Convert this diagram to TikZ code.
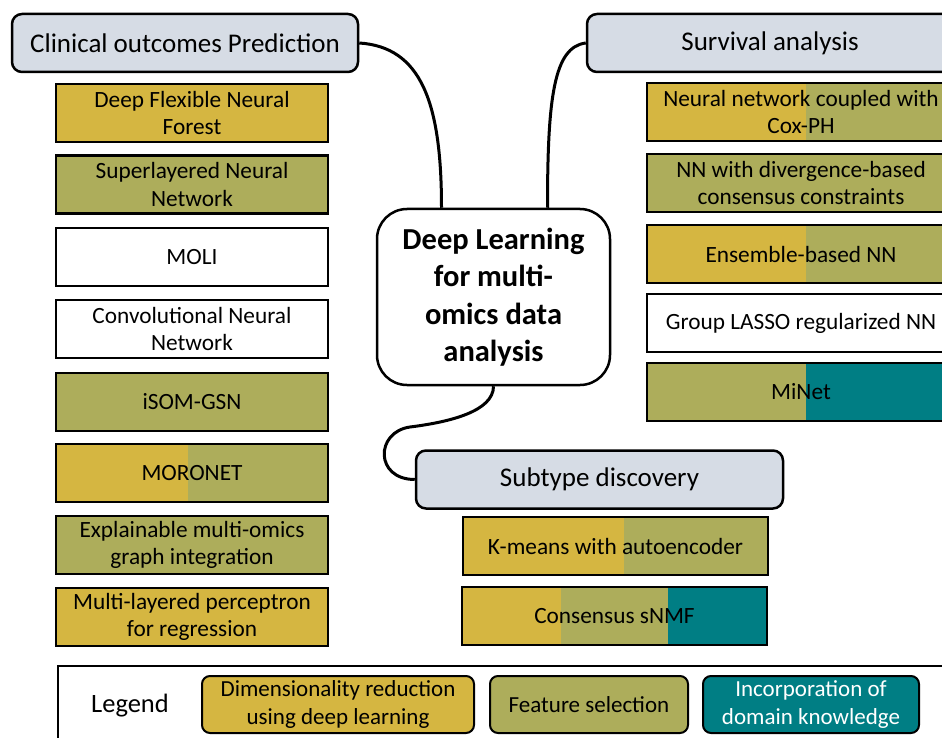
\documentclass[tikz,border=0pt]{standalone}
\usepackage{fontspec}
\setmainfont{Carlito}
\usetikzlibrary{calc}
\definecolor{dimred}{HTML}{D5B641}
\definecolor{featsel}{HTML}{ADAD5B}
\definecolor{domknow}{HTML}{007E84}
\definecolor{headgray}{HTML}{D6DCE5}

\begin{document}
\begin{tikzpicture}[x=1pt, y=-1pt,
    header/.style={draw, line width=2.5pt, rounded corners=10pt, fill=headgray, minimum height=58pt, font=\fontsize{27}{30}\selectfont},
    method/.style={draw, line width=2.5pt, minimum height=58pt, inner sep=2pt, align=center, font=\fontsize{23.3}{27.5}\selectfont},
    duo/.style n args={3}{path picture={
        \fill[#1] (path picture bounding box.north west) rectangle ([xshift=#3]path picture bounding box.south west);
        \fill[#2] ([xshift=#3]path picture bounding box.north west) rectangle (path picture bounding box.south east);}},
    key/.style={draw, line width=2pt, rounded corners=8pt, minimum height=57pt, inner sep=2pt, align=center, font=\fontsize{23}{28}\selectfont},
    link/.style={line width=3pt}]
  \useasboundingbox (0,0) rectangle (942,738);

  % centre
  \node[draw, line width=2.5pt, rounded corners=30pt, minimum width=233pt, minimum height=176pt, align=center,
        font=\fontsize{30.5}{37.5}\bfseries\selectfont] (core) at (493.5,297) {Deep Learning\\for multi-\\omics data\\analysis};

  % headers
  \node[header, minimum width=346pt] (clinical) at (185,43) {Clinical outcomes Prediction};
  \node[header, minimum width=366pt] (survival) at (770,43) {Survival analysis};
  \node[header, minimum width=367pt] (subtype) at (599.5,479.5) {Subtype discovery};

  % clinical outcomes
  \node[method, minimum width=272pt, fill=dimred] (dfnf) at (192,113) {Deep Flexible Neural\\Forest};
  \node[method, minimum width=272pt, fill=featsel] (snn) at (192,184.5) {Superlayered Neural\\Network};
  \node[method, minimum width=272pt] (moli) at (192,257) {MOLI};
  \node[method, minimum width=272pt] (cnn) at (192,329) {Convolutional Neural\\Network};
  \node[method, minimum width=272pt, fill=featsel] (isom) at (192,402) {iSOM-GSN};
  \node[method, minimum width=272pt, duo={dimred}{featsel}{132pt}] (moronet) at (192,473) {MORONET};
  \node[method, minimum width=272pt, fill=featsel] (xomics) at (192,545) {Explainable multi-omics\\graph integration};
  \node[method, minimum width=272pt, fill=dimred] (mlp) at (192,617) {Multi-layered perceptron\\for regression};

  % survival
  \node[method, minimum width=308pt, duo={dimred}{featsel}{159pt}] (coxph) at (801,112) {Neural network coupled with\\Cox-PH};
  \node[method, minimum width=308pt, fill=featsel] (divnn) at (801,183) {NN with divergence-based\\consensus constraints};
  \node[method, minimum width=308pt, duo={dimred}{featsel}{159pt}] (ensnn) at (801,254) {Ensemble-based NN};
  \node[method, minimum width=308pt] (lasso) at (801,323) {Group LASSO regularized NN};
  \node[method, minimum width=308pt, duo={featsel}{domknow}{159pt}] (minet) at (801,392) {MiNet};

  % subtype
  \node[method, minimum width=305pt, duo={dimred}{featsel}{161pt}] (kmeans) at (615.5,546) {K-means with autoencoder};
  \node[method, minimum width=305pt, path picture={
        \fill[dimred] (path picture bounding box.north west) rectangle ([xshift=99pt]path picture bounding box.south west);
        \fill[featsel] ([xshift=99pt]path picture bounding box.north west) rectangle ([xshift=206pt]path picture bounding box.south west);
        \fill[domknow] ([xshift=206pt]path picture bounding box.north west) rectangle (path picture bounding box.south east);}]
        (snmf) at (614.5,616) {Consensus sNMF};

  % links
  \draw[link] (clinical.east) .. controls +(62,4) and +(0,-105) .. ([xshift=-52pt]core.north);
  \draw[link] (survival.west) .. controls +(-32,4) and +(0,-110) .. ([xshift=54pt]core.north);
  \coordinate (kink) at (410,427);
  \draw[link] (core.south) .. controls +(0,25) and +(40,-5) .. (kink)
                           .. controls +(-35,5) and +(-40,0) .. (subtype.west);

  % legend
  \node[draw, line width=2pt, minimum width=903pt, minimum height=95pt, anchor=north west] (legendbox) at (57,665) {};
  \node[font=\fontsize{26.5}{30}\selectfont] (legendlabel) at (130,706) {Legend};
  \node[key, minimum width=272pt, fill=dimred] (keydim) at (338,704.5) {Dimensionality reduction\\using deep learning};
  \node[key, minimum width=198pt, fill=featsel] (keyfeat) at (589,704.5) {Feature selection};
  \node[key, minimum width=216pt, fill=domknow, text=white] (keydom) at (811,704.5) {Incorporation of\\domain knowledge};
\end{tikzpicture}
\end{document}
